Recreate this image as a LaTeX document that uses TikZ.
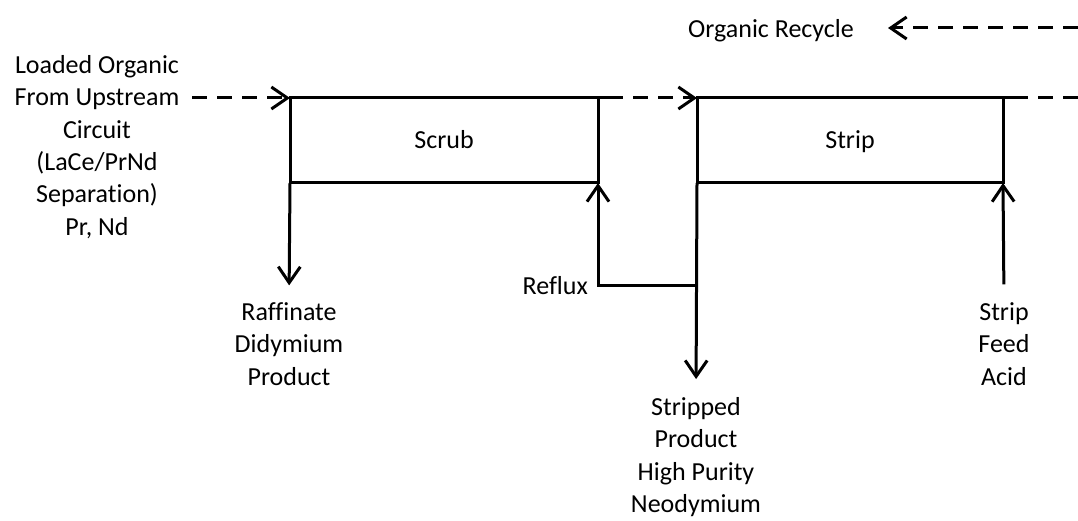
\documentclass[tikz,border=0pt]{standalone}
\usepackage{fontspec}
\setmainfont{Carlito}[Ligatures=NoCommon]
\usetikzlibrary{arrows.meta}
\begin{document}
\begin{tikzpicture}[x=1pt,y=-1pt,
  pipe/.style={line width=3pt},
  head/.style={-{Straight Barb[length=16pt,width=22pt,line width=3pt]}},
  flow/.style={pipe, head},
  dashpipe/.style={pipe, dash pattern=on 15pt off 10pt},
  dashflow/.style={dashpipe, head},
  unit/.style={draw, pipe, inner sep=0pt, outer sep=0pt, text height=19pt, text depth=3pt},
  txt/.style={font=\fontsize{26}{32.4}\selectfont, align=center, inner sep=0pt}
]
\useasboundingbox (0,0) rectangle (1078,521);

% settler units
\node[unit, txt, minimum width=308pt, minimum height=85pt] (scrub) at (444,140.5) {Scrub};
\node[unit, txt, minimum width=306pt, minimum height=85pt] (strip) at (850,140.5) {Strip};

% stream labels
\node[txt] (loaded) at (97,147) {Loaded Organic\\From Upstream\\Circuit\\(LaCe/PrNd\\Separation)\\Pr, Nd};
\node[txt] (recycle) at (771,31) {Organic Recycle};
\node[txt] (raff) at (289,344) {Raffinate\\Didymium\\Product};
\node[txt, anchor=east] (reflux) at (588,286) {Reflux};
\node[txt] (prod) at (696,457) {Stripped\\Product\\High Purity\\Neodymium};
\node[txt] (acid) at (1004,344) {Strip\\Feed\\Acid};

% organic flow along the top
\coordinate (feedin) at (192,98);
\draw[dashflow] (feedin) -- (scrub.north west);
\draw[pipe] (scrub.north east) -- ++(10,0) coordinate (scrubout);
\draw[dashflow] (scrubout) -- (strip.north west);
\draw[pipe] (strip.north east) -- ++(10,0) coordinate (stripout);
\coordinate (orgout) at (1078,98);
\draw[dashpipe] (stripout) -- (orgout);

% organic recycle
\coordinate (recyclein) at (1078,28);
\coordinate (recycletip) at (888,28);
\draw[dashflow] (recyclein) -- (recycletip);

% aqueous streams
\draw[flow, shorten >=17pt] (scrub.south west) -- (raff.north);
\draw[flow, shorten >=18pt] (strip.south west) -- (prod.north);
\coordinate (split) at (697,285);
\draw[flow] (split) -| (scrub.south east);
\draw[flow, shorten <=18pt] (acid.north) -- (strip.south east);
\end{tikzpicture}
\end{document}
